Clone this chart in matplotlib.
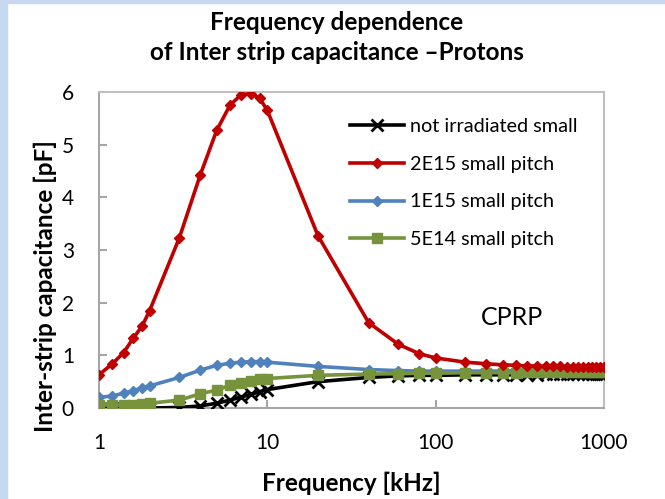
import matplotlib
matplotlib.use("Agg")
import matplotlib.pyplot as plt
from matplotlib.patches import Rectangle

plt.rcParams['font.family'] = ['Lato', 'DejaVu Sans']

# Frequency points [kHz]
freq = [1, 1.2, 1.4, 1.6, 1.8, 2, 3, 4, 5, 6, 7, 8, 9, 10, 20, 40, 60, 80, 100,
        150, 200, 250, 300, 350, 400, 450, 500, 550, 600, 650, 700, 750, 800,
        850, 900, 950, 1000]

# Inter-strip capacitance [pF]
not_irr = [0.0, 0.0, 0.0, 0.0, 0.0, 0.0, 0.01, 0.04, 0.09, 0.15, 0.21, 0.26, 0.31, 0.35,
           0.50, 0.58, 0.61, 0.62, 0.62, 0.63, 0.63, 0.63, 0.63, 0.63, 0.63, 0.64,
           0.64, 0.64, 0.64, 0.64, 0.64, 0.64, 0.65, 0.65, 0.65, 0.65, 0.65]
p2e15 = [0.63, 0.84, 1.05, 1.33, 1.55, 1.85, 3.23, 4.43, 5.27, 5.75, 5.95, 5.97, 5.88, 5.65,
         3.27, 1.62, 1.21, 1.03, 0.95, 0.87, 0.84, 0.82, 0.81, 0.80, 0.80, 0.79,
         0.79, 0.79, 0.78, 0.78, 0.78, 0.78, 0.78, 0.77, 0.77, 0.77, 0.77]
p1e15 = [0.20, 0.23, 0.28, 0.33, 0.38, 0.42, 0.58, 0.72, 0.81, 0.85, 0.87, 0.88, 0.88, 0.87,
         0.79, 0.73, 0.71, 0.70, 0.70, 0.70, 0.70, 0.70, 0.70, 0.70, 0.70, 0.70,
         0.71, 0.71, 0.71, 0.71, 0.71, 0.71, 0.71, 0.71, 0.71, 0.71, 0.71]
p5e14 = [0.06, 0.06, 0.06, 0.065, 0.07, 0.09, 0.15, 0.27, 0.34, 0.43, 0.48, 0.52, 0.55, 0.56,
         0.62, 0.645, 0.65, 0.66, 0.66, 0.67, 0.67, 0.67, 0.67, 0.68, 0.68, 0.68,
         0.68, 0.68, 0.68, 0.69, 0.69, 0.69, 0.69, 0.69, 0.69, 0.69, 0.69]

fig = plt.figure(figsize=(6.65, 4.99), dpi=100)
# light blue slide border
fig.patches.append(Rectangle((0, 0), 7 / 665, 1, transform=fig.transFigure,
                             color='#C6D9F1', zorder=0))
fig.patches.append(Rectangle((0, 1 - 3 / 499), 1, 3 / 499, transform=fig.transFigure,
                             color='#C6D9F1', zorder=0))

ax = fig.add_axes([99 / 665, 1 - 408 / 499, 505 / 665, 316 / 499])

ax.plot(freq, not_irr, color='black', lw=2.6, marker='x', ms=8.5, mew=2,
        label='not irradiated small', zorder=3)
ax.plot(freq, p2e15, color='#C00000', lw=2.6, marker='D', ms=5,
        label='2E15 small pitch', zorder=4)
ax.plot(freq, p1e15, color='#4F81BD', lw=2.6, marker='D', ms=5,
        label='1E15 small pitch', zorder=3)
ax.plot(freq, p5e14, color='#77933C', lw=2.6, marker='s', ms=6.5,
        label='5E14 small pitch', zorder=3)

ax.set_xscale('log')
ax.set_xlim(1, 1000)
ax.set_ylim(0, 6)
ax.set_xticks([1, 10, 100, 1000])
ax.set_xticklabels(['1', '10', '100', '1000'])
ax.xaxis.set_minor_locator(matplotlib.ticker.NullLocator())
ax.set_yticks(range(7))
ax.tick_params(direction='in', length=6, width=1.5, color='#A6A6A6',
               labelsize=15)
ax.tick_params(axis='x', pad=18)
ax.tick_params(axis='y', pad=18)
for s in ax.spines.values():
    s.set_color('#BFBFBF')
    s.set_linewidth(1.5)
ax.spines['left'].set_color('#A6A6A6')
ax.spines['bottom'].set_color('#A6A6A6')

ax.legend(loc='upper left', bbox_to_anchor=(0.462, 0.975), frameon=False,
          fontsize=14.3, handlelength=2.7, handletextpad=0.3, labelspacing=1.05)

ax.text(284, 1.71, 'CPRP', fontsize=18, ha='center', va='center')

fig.text(337 / 665, 1 - 22 / 499, 'Frequency dependence', fontsize=17.5,
         fontweight='bold', ha='center', va='center')
fig.text(337 / 665, 1 - 52 / 499, 'of Inter strip capacitance \u2013Protons', fontsize=17.5,
         fontweight='bold', ha='center', va='center')
fig.text(351 / 665, 1 - 483 / 499, 'Frequency [kHz]', fontsize=17.5,
         fontweight='bold', ha='center', va='center')
fig.text(45 / 665, 1 - 286 / 499, 'Inter-strip capacitance [pF]', fontsize=17.5,
         fontweight='bold', ha='center', va='center', rotation=90)

fig.savefig('out.png', dpi=100)
